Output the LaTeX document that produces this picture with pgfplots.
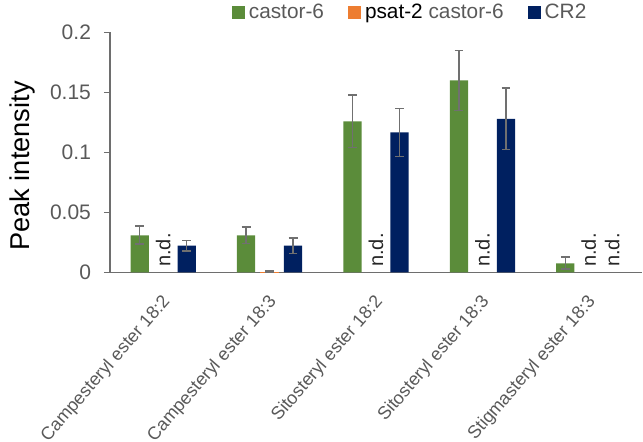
\documentclass[border=0pt]{standalone}
\usepackage{pgfplots}
\pgfplotsset{compat=1.18}
\usepackage{fontspec}
\setmainfont{Liberation Sans}
\definecolor{cgreen}{HTML}{5B8C3A}
\definecolor{corange}{HTML}{ED7D31}
\definecolor{cblue}{HTML}{002060}
\definecolor{tgray}{HTML}{595959}
\definecolor{agray}{HTML}{6E6E6E}
\definecolor{egray}{HTML}{707070}
\tikzset{nd/.style={rotate=90, anchor=west, inner sep=0pt, font=\fontsize{10}{12}\selectfont, text=black!85}}
\begin{document}
\begin{tikzpicture}
\begin{axis}[
  scale only axis,
  width=266pt, height=120pt,
  xmin=-0.5, xmax=4.5, ymin=0, ymax=0.2,
  axis x line*=bottom, axis y line*=left,
  axis line style={agray, line width=0.9pt, -},
  xtick={0,1,2,3,4},
  xticklabels={Campesteryl ester 18:2, Campesteryl ester 18:3, Sitosteryl ester 18:2, Sitosteryl ester 18:3, Stigmasteryl ester 18:3},
  x tick style={draw=none},
  xticklabel style={yshift=-10pt, xshift=2pt, rotate=49, anchor=east, inner sep=0pt, font=\fontsize{9}{11}\selectfont, text=tgray},
  ytick={0,0.05,0.1,0.15,0.2},
  yticklabels={0,0.05,0.1,0.15,0.2},
  y tick style={agray, line width=0.9pt},
  tick align=outside, major tick length=3pt,
  yticklabel style={font=\fontsize{10.5}{12}\selectfont, text=tgray, xshift=-3pt},
  ylabel={Peak intensity},
  ylabel style={at={(axis description cs:-0.165,0.444)}, anchor=center, font=\fontsize{13.6}{15}\selectfont, text=black},
  ybar=2.6pt, bar width=9.15pt,
  legend columns=3,
  legend style={at={(axis description cs:0.566,1.083)}, anchor=center, draw=none, fill=none,
    font=\fontsize{10.4}{12}\selectfont, text=tgray,
    nodes={inner xsep=2pt},
    /tikz/every even column/.append style={column sep=10pt}},
  legend image code/.code={\fill[#1] (0pt,-3.2pt) rectangle (6.5pt,3.3pt);},
  error bars/y dir=both, error bars/y explicit,
  error bars/error bar style={egray, line width=0.8pt},
  error bars/error mark options={rotate=90, egray, mark size=2.2pt, line width=0.8pt},
]
\addplot[fill=cgreen, draw=none] coordinates {
  (0,0.031) +- (0,0.0075)
  (1,0.031) +- (0,0.007)
  (2,0.126) +- (0,0.022)
  (3,0.160) +- (0,0.025)
  (4,0.0077) +- (0,0.005)
};
\addlegendentry{castor-6}
\addplot[fill=corange, draw=none] coordinates {
  (1,0.0008) +- (0,0.0004)
};
\addlegendentry{{\color{black}psat-2} castor-6}
\addplot[fill=cblue, draw=none] coordinates {
  (0,0.0223) +- (0,0.0045)
  (1,0.0223) +- (0,0.0065)
  (2,0.1168) +- (0,0.020)
  (3,0.128) +- (0,0.0256)
};
\addlegendentry{CR2}
\coordinate (O) at (rel axis cs:0,0);
\coordinate (N0) at (axis cs:0,0.0045);
\coordinate (N2) at (axis cs:2,0.0045);
\coordinate (N3) at (axis cs:3,0.0045);
\coordinate (N4) at (axis cs:4,0.0045);
\end{axis}
\node[nd] at (N0) {n.d.};
\node[nd] at (N2) {n.d.};
\node[nd] at (N3) {n.d.};
\node[nd] at (N4) {n.d.};
\node[xshift=11.75pt, nd] at (N4) {n.d.};
\pgfresetboundingbox
\path (O) ++(-55pt,-84.75pt) rectangle ++(321.5pt,221pt);
\end{tikzpicture}
\end{document}
